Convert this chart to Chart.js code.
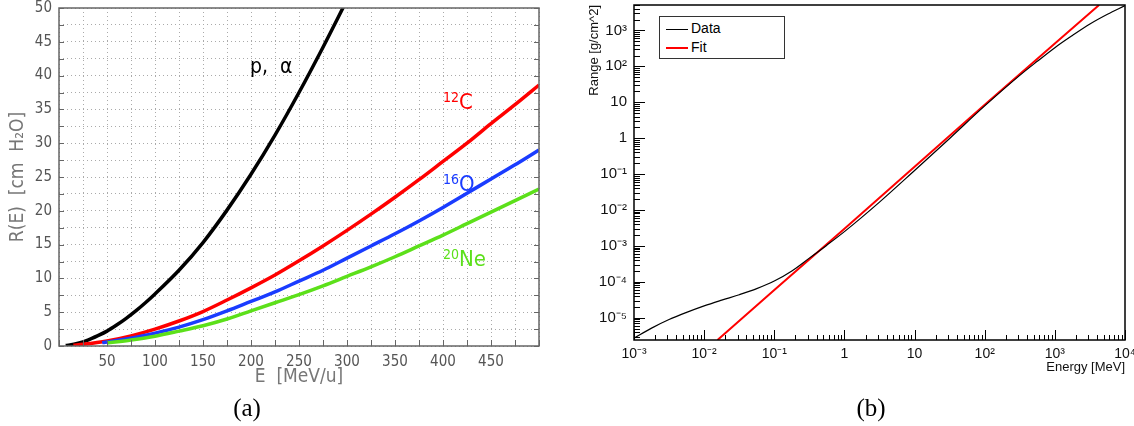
<!DOCTYPE html>
<html>
<head>
<meta charset="utf-8">
<script src="https://cdn.jsdelivr.net/npm/chart.js@4.4.1/dist/chart.umd.min.js"></script>
<style>
  body { margin: 0; width: 1134px; height: 426px; background: #fff; position: relative; overflow: hidden; }
  canvas { position: absolute; top: 0; }
  #chartA { left: 0; }
  #chartB { left: 580px; }
  .cap { position: absolute; width: 100px; text-align: center; font-family: 'Liberation Serif', serif; font-size: 25px; line-height: 1; color: #000; }
  .lbl { position: absolute; font-family: 'Liberation Sans Narrow', 'DejaVu Sans Condensed', 'Liberation Sans', sans-serif; font-size: 22px; line-height: 1; white-space: nowrap; }
  .lbl sup { font-size: 14px; vertical-align: 7px; line-height: 0; }
  #legend { position: absolute; left: 659px; top: 16px; width: 124px; height: 41px; border: 1px solid #333; background: #fff;
            font-family: 'Liberation Sans', Arial, sans-serif; font-size: 14px; color: #000; }
  #legend .row { position: absolute; left: 6px; height: 16px; line-height: 16px; }
  #legend .sw { display: inline-block; width: 22px; vertical-align: middle; margin-right: 3px; }
</style>
</head>
<body>
<canvas id="chartA" width="560" height="400"></canvas>
<canvas id="chartB" width="554" height="400"></canvas>

<div class="lbl" style="left:250px; top:56px; font-size:21px; color:#000;">p,&nbsp;&nbsp;α</div>
<div class="lbl" style="left:443px; top:91px; color:#f00;"><sup>12</sup>C</div>
<div class="lbl" style="left:443px; top:173px; color:#1a3cff;"><sup>16</sup>O</div>
<div class="lbl" style="left:443px; top:248px; color:#5ce01a;"><sup>20</sup>Ne</div>

<div id="legend">
  <div class="row" style="top:3px;"><span class="sw" style="border-top:1px solid #000;"></span>Data</div>
  <div class="row" style="top:22px;"><span class="sw" style="border-top:2px solid #f00;"></span>Fit</div>
</div>

<div class="cap" style="left:197px; top:395px;">(a)</div>
<div class="cap" style="left:821px; top:395px;">(b)</div>

<script>
// (a) range in water vs energy per nucleon
const energyPA = [7, 10, 20, 30, 40, 50, 60, 70, 80, 90, 100, 125, 150, 175, 200, 225, 250, 275, 300];
const rangePA  = [0.06, 0.12, 0.42, 0.88, 1.5, 2.2, 3.1, 4.1, 5.2, 6.4, 7.7, 11.2, 15.3, 20.1, 25.4, 31.2, 37.5, 44.2, 51.2];

const energyC = [15, 25, 50, 75, 100, 125, 150, 175, 200, 225, 250, 275, 300, 325, 350, 375, 400, 425, 450, 475, 500];
const rangeC  = [0.1, 0.25, 0.75, 1.5, 2.5, 3.7, 5.1, 6.8, 8.6, 10.5, 12.6, 14.8, 17.1, 19.5, 22, 24.6, 27.3, 30, 32.9, 35.7, 38.6];

const energyO = [45, 50, 75, 100, 125, 150, 175, 200, 225, 250, 275, 300, 325, 350, 375, 400, 425, 450, 475, 500];
const rangeO  = [0.5, 0.6, 1.15, 1.9, 2.8, 3.9, 5.2, 6.6, 8, 9.6, 11.2, 13, 14.8, 16.6, 18.5, 20.5, 22.6, 24.7, 26.8, 29];

const energyNe = [50, 75, 100, 125, 150, 175, 200, 225, 250, 275, 300, 325, 350, 375, 400, 425, 450, 475, 500];
const rangeNe  = [0.45, 0.9, 1.45, 2.2, 3.0, 4.0, 5.2, 6.4, 7.6, 8.9, 10.3, 11.7, 13.2, 14.8, 16.4, 18.1, 19.8, 21.5, 23.2];

// (b) range vs energy, log-log
const dataEnergy = [0.001, 0.00178, 0.00316, 0.00562, 0.01, 0.0178, 0.0316, 0.0562, 0.1, 0.178, 0.316, 0.562,
                    1, 3.16, 10, 31.6, 100, 316, 562, 1000, 1780, 3160, 5620, 10000];
const dataRange  = [2.69e-6, 5.13e-6, 8.9e-6, 1.41e-5, 2.14e-5, 3.09e-5, 4.37e-5, 6.46e-5, 1.05e-4, 2.0e-4, 4.57e-4, 1.05e-3,
                    2.5e-3, 1.66e-2, 0.126, 0.98, 7.9, 56, 138, 331, 724, 1510, 2820, 4900];
const fitEnergy = [0.0155, 0.1, 1, 10, 100, 1000, 4270];
const fitRange  = [2.4e-6, 5.9e-5, 3.0e-3, 0.16, 8.5, 430, 5100];

const xTickValuesB = [1e-3, 1e-2, 1e-1, 1, 10, 1e2, 1e3, 1e4];
const xTickLabelsB = ['10⁻³', '10⁻²', '10⁻¹', '1', '10', '10²', '10³', '10⁴'];
const yTickValuesB = [1e-5, 1e-4, 1e-3, 1e-2, 1e-1, 1, 10, 1e2, 1e3];
const yTickLabelsB = ['10⁻⁵', '10⁻⁴', '10⁻³', '10⁻²', '10⁻¹', '1', '10', '10²', '10³'];

function points(xs, ys) {
    return xs.map((x, i) => ({x: x, y: ys[i]}));
}

const narrow = "'Liberation Sans Narrow', 'DejaVu Sans Condensed', 'Liberation Sans', sans-serif";
const sans = "'Liberation Sans', Arial, sans-serif";

// frame + small inward ticks for (a)
const frameA = {
    id: 'frameA',
    afterDatasetsDraw(chart) {
        const {ctx, chartArea: a, scales: {x, y}} = chart;
        ctx.save();
        ctx.strokeStyle = '#666';
        ctx.lineWidth = 1;
        ctx.beginPath();
        y.ticks.forEach(t => {
            const py = Math.round(y.getPixelForValue(t.value)) + 0.5;
            ctx.moveTo(a.left, py); ctx.lineTo(a.left + 5, py);
            ctx.moveTo(a.right, py); ctx.lineTo(a.right - 5, py);
        });
        x.ticks.forEach(t => {
            const px = Math.round(x.getPixelForValue(t.value)) + 0.5;
            ctx.moveTo(px, a.bottom); ctx.lineTo(px, a.bottom - 6);
        });
        ctx.stroke();
        ctx.lineWidth = 1.5;
        ctx.strokeRect(a.left, a.top, a.right - a.left, a.bottom - a.top);
        ctx.restore();
    }
};

// frame + log ticks for (b)
const frameB = {
    id: 'frameB',
    afterDatasetsDraw(chart) {
        const {ctx, chartArea: a, scales: {x, y}} = chart;
        ctx.save();
        ctx.strokeStyle = '#000';
        ctx.lineWidth = 1;
        ctx.beginPath();
        for (let n = -6; n <= 3; n++) {
            for (let k = 1; k <= 9; k++) {
                const v = k * Math.pow(10, n);
                if (v < y.min || v > y.max) continue;
                const py = Math.round(y.getPixelForValue(v)) + 0.5;
                ctx.moveTo(a.left, py); ctx.lineTo(a.left + (k === 1 ? 11 : 6), py);
            }
        }
        for (let n = -3; n <= 4; n++) {
            for (let k = 1; k <= 9; k++) {
                const v = k * Math.pow(10, n);
                if (v < x.min || v > x.max) continue;
                const px = Math.round(x.getPixelForValue(v)) + 0.5;
                ctx.moveTo(px, a.bottom); ctx.lineTo(px, a.bottom - (k === 1 ? 10 : 5));
            }
        }
        ctx.stroke();
        ctx.lineWidth = 1.5;
        ctx.strokeRect(a.left, a.top, a.right - a.left, a.bottom - a.top);
        ctx.restore();
    }
};

const lineStyle = {pointRadius: 0, fill: false, tension: 0.4, cubicInterpolationMode: 'monotone'};

new Chart(document.getElementById('chartA'), {
    type: 'line',
    data: {
        datasets: [
            Object.assign({data: points(energyNe, rangeNe), borderColor: '#5ce01a', borderWidth: 3.5}, lineStyle),
            Object.assign({data: points(energyO, rangeO), borderColor: '#1a3cff', borderWidth: 3.5}, lineStyle),
            Object.assign({data: points(energyC, rangeC), borderColor: '#ff0000', borderWidth: 3.5}, lineStyle),
            Object.assign({data: points(energyPA, rangePA), borderColor: '#000000', borderWidth: 3.5}, lineStyle)
        ]
    },
    options: {
        responsive: false,
        animation: false,
        layout: {padding: {top: 8, right: 21, left: 0, bottom: 4}},
        plugins: {legend: {display: false}, tooltip: {enabled: false}},
        scales: {
            x: {
                type: 'linear', min: 0, max: 500,
                afterFit(s) { s.height = 50; s.paddingLeft = 0; s.paddingRight = 0; },
                ticks: {
                    stepSize: 25, autoSkip: false, maxRotation: 0, padding: 7,
                    color: '#555', font: {family: narrow, size: 15},
                    callback: v => (v % 50 === 0 && v > 0 && v < 500) ? String(v) : ''
                },
                grid: {color: '#aaa', lineWidth: 1, drawTicks: false},
                border: {display: false, dash: [1, 3]},
                title: {display: true, text: 'E  [MeV/u]', color: '#777',
                        font: {family: narrow, size: 19}, padding: {top: 0, bottom: 8}}
            },
            y: {
                type: 'linear', min: 0, max: 50,
                afterFit(s) { s.width = 59; s.paddingTop = 0; s.paddingBottom = 0; },
                ticks: {
                    stepSize: 2.5, autoSkip: false, padding: 7,
                    color: '#555', font: {family: narrow, size: 15},
                    callback: v => (v % 5 === 0) ? String(v) : ''
                },
                grid: {color: '#aaa', lineWidth: 1, drawTicks: false},
                border: {display: false, dash: [1, 3]},
                title: {display: true, text: 'R(E)  [cm  H₂O]', color: '#777',
                        font: {family: narrow, size: 19}, padding: {top: 7, bottom: 0}}
            }
        }
    },
    plugins: [frameA]
});

new Chart(document.getElementById('chartB'), {
    type: 'line',
    data: {
        datasets: [
            Object.assign({label: 'Data', data: points(dataEnergy, dataRange), borderColor: '#000', borderWidth: 1.2}, lineStyle),
            {label: 'Fit', data: points(fitEnergy, fitRange), borderColor: '#ff0000', borderWidth: 2, pointRadius: 0, tension: 0}
        ]
    },
    options: {
        responsive: false,
        animation: false,
        layout: {padding: {top: 5, right: 9, left: 0, bottom: 25}},
        plugins: {legend: {display: false}, tooltip: {enabled: false}},
        scales: {
            x: {
                type: 'logarithmic', min: 1e-3, max: 1e4,
                afterBuildTicks(s) { s.ticks = xTickValuesB.map(v => ({value: v})); },
                afterFit(s) { s.height = 35; s.paddingLeft = 0; s.paddingRight = 0; },
                ticks: {
                    autoSkip: false, maxRotation: 0, padding: 6, color: '#111',
                    font: {family: sans, size: 14},
                    callback: (v, i) => xTickLabelsB[i]
                },
                grid: {display: false, drawTicks: false},
                border: {display: false},
                title: {display: true, text: 'Energy [MeV]', align: 'end', color: '#111',
                        font: {family: sans, size: 13}, padding: 0}
            },
            y: {
                type: 'logarithmic', min: 2.4e-6, max: 5100,
                afterBuildTicks(s) { s.ticks = yTickValuesB.map(v => ({value: v})); },
                afterFit(s) { s.width = 54; s.paddingTop = 0; s.paddingBottom = 0; },
                ticks: {
                    autoSkip: false, padding: 7, color: '#111',
                    font: {family: sans, size: 15},
                    callback: (v, i) => yTickLabelsB[i]
                },
                grid: {display: false, drawTicks: false},
                border: {display: false},
                title: {display: true, text: 'Range [g/cm^2]', align: 'end', color: '#111',
                        font: {family: sans, size: 13}, padding: {top: 7, bottom: 0}}
            }
        }
    },
    plugins: [frameB]
});
</script>
</body>
</html>
